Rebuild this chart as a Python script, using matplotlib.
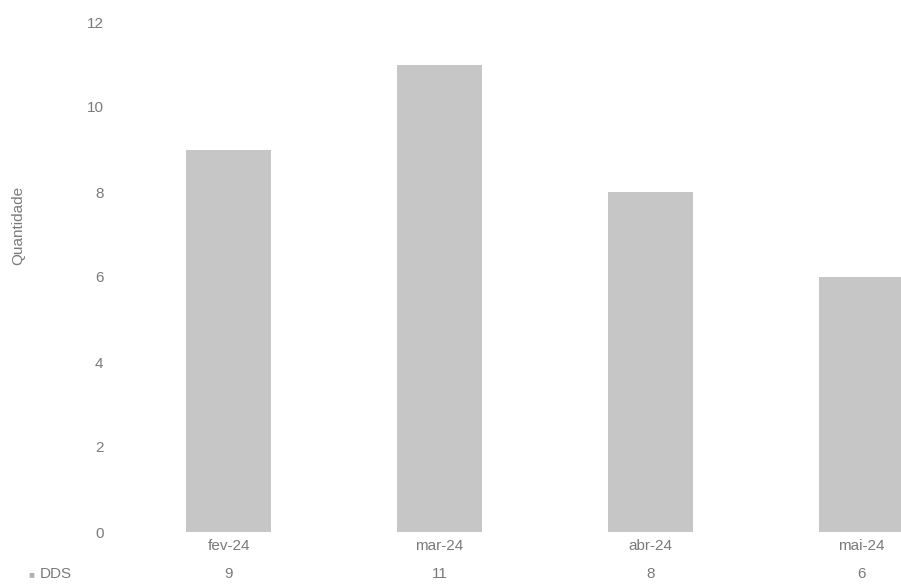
import matplotlib.pyplot as plt
from matplotlib.transforms import blended_transform_factory

plt.rcParams['font.family'] = ['Liberation Sans', 'DejaVu Sans']

meses = ["fev-24", "mar-24", "abr-24", "mai-24"]
dds = [9, 11, 8, 6]
yticks = [0, 2, 4, 6, 8, 10, 12]

W, H = 901, 587
fig = plt.figure(figsize=(W / 100, H / 100), dpi=100)
# axes runs past the right edge, as in the cropped scan
ax = fig.add_axes([123 / W, 55 / H, 844 / W, 510 / H])

cinza_txt = "#7a7a7a"
x = list(range(len(meses)))
ax.bar(x, dds, width=0.4, color="#c6c6c6", edgecolor="none")

ax.set_xlim(-0.5, 3.5)
ax.set_ylim(0, 12)
ax.set_yticks(yticks)
ax.set_yticklabels([str(v) for v in yticks])
ax.tick_params(axis="y", length=0, pad=14, labelsize=11, labelcolor=cinza_txt)
ax.set_xticks(x)
ax.set_xticklabels(meses)
ax.tick_params(axis="x", length=0, pad=5, labelsize=11, labelcolor=cinza_txt)
for s in ax.spines.values():
    s.set_visible(False)

# linha da tabela de dados
tr = blended_transform_factory(ax.transData, fig.transFigure)
for xi, v in zip(x, dds):
    ax.text(xi, 1 - 574 / H, str(v), transform=tr, ha="center", va="center",
            fontsize=11, color=cinza_txt)
fig.text(28 / W, 1 - 574 / H, "■", ha="left", va="center", fontsize=7, color="#b0b0b0")
fig.text(40 / W, 1 - 574 / H, "DDS", ha="left", va="center", fontsize=11, color=cinza_txt)

fig.text(18 / W, 1 - 225 / H, "Quantidade", rotation=90, ha="center", va="center",
         fontsize=11, color=cinza_txt)

fig.savefig("out.png", dpi=100, facecolor="white")
